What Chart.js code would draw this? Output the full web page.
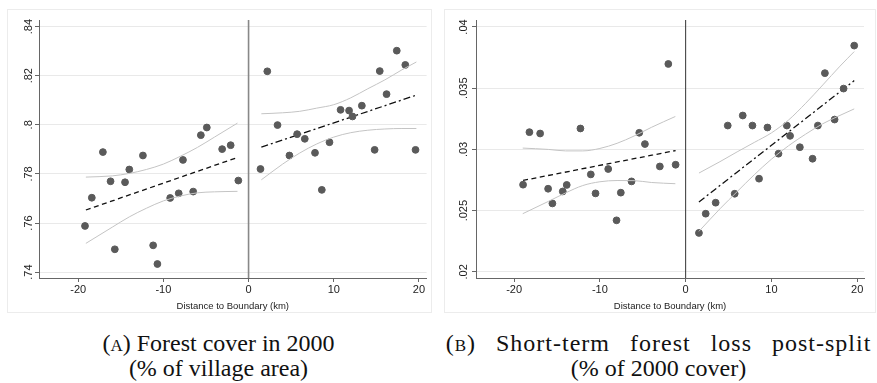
<!DOCTYPE html>
<html lang="en">
<head>
<meta charset="UTF-8">
<script src="https://cdn.jsdelivr.net/npm/chart.js"></script>
<style>
  body { margin: 0; width: 877px; height: 383px; background: #fff; position: relative; overflow: hidden; }
  .panel { position: absolute; top: 9px; height: 304px; border: 1px solid #ececec; box-sizing: border-box; }
  .cap { position: absolute; top: 331px; font-family: 'Liberation Serif', serif; font-size: 24px; line-height: 25px; color: #111; text-align: center; white-space: nowrap; }
  .sc { font-variant: small-caps; }
</style>
</head>
<body>

<div class="panel" style="left:7px; width:425px;"><canvas id="chartA"></canvas></div>
<div class="panel" style="left:444px; width:432px;"><canvas id="chartB"></canvas></div>

<div class="cap" style="left:0; width:437px;">(<span class="sc">a</span>) Forest cover in 2000<br>(% of village area)</div>
<div class="cap" style="left:440px; width:437px;"><span style="word-spacing:13px; letter-spacing:1px;">(<span class="sc">b</span>) Short-term forest loss post-split</span><br>(% of 2000 cover)</div>

<script>
  // x ticks (shared)
  const xTicks = [-20, -10, 0, 10, 20];

  // Panel A: forest cover 2000, binned means
  const distA = [-19.2, -18.4, -17.1, -16.2, -15.7, -14.5, -14.0, -12.4, -11.2, -10.7, -9.2, -8.2, -7.7, -6.5, -5.6, -4.9, -3.1, -2.1, -1.2,
                 1.4, 2.2, 3.4, 4.8, 5.7, 6.6, 7.8, 8.6, 9.5, 10.8, 11.8, 12.2, 13.3, 14.8, 15.4, 16.2, 17.4, 18.4, 19.6];
  const coverA = [.7588, .7703, .7889, .7770, .7493, .7766, .7818, .7875, .7509, .7433, .7702, .7721, .7857, .7728, .7958, .7989, .7901, .7917, .7773,
                  .7820, .8218, .7999, .7875, .7962, .7943, .7886, .7735, .7929, .8061, .8058, .8034, .8078, .7898, .8219, .8125, .8302, .8244, .7898];
  const fitAX_L = [-19.1, -1.3];
  const fitAY_L = [.7653, .7867];
  const fitAX_R = [1.5, 19.7];
  const fitAY_R = [.7909, .8121];
  const ciAX_L = [-19.1, -16, -14, -12, -10, -8, -6, -4, -1.3];
  const ciAHi_L = [.7787, .7792, .7802, .7818, .7840, .7872, .7908, .7950, .8007];
  const ciALo_L = [.7517, .7583, .7625, .7660, .7690, .7710, .7723, .7727, .7729];
  const ciAX_R = [1.5, 4, 6, 8, 10, 12, 14, 16, 18, 19.7];
  const ciAHi_R = [.8045, .8049, .8055, .8068, .8082, .8110, .8147, .8183, .8224, .8256];
  const ciALo_R = [.7776, .7840, .7885, .7922, .7950, .7968, .7978, .7983, .7985, .7985];
  const yTicksA = [.74, .76, .78, .80, .82, .84];
  const yLabelsA = ['.74', '.76', '.78', '.8', '.82', '.84'];

  // Panel B: short-term forest loss post-split
  const distB = [-18.96, -18.22, -16.97, -16.04, -15.54, -14.33, -13.87, -12.27, -11.06, -10.51, -9.03, -8.06, -7.56, -6.31, -5.41, -4.75, -3.01, -2.02, -1.17,
                 1.55, 2.34, 3.5, 4.91, 5.72, 6.66, 7.79, 8.56, 9.54, 10.83, 11.8, 12.18, 13.32, 14.8, 15.42, 16.24, 17.37, 18.42, 19.66];
  const lossB = [.02712, .03141, .0313, .02679, .02559, .02657, .0271, .03171, .02796, .02641, .0284, .02421, .02647, .02739, .03136, .03044, .02861, .03698, .02875,
                 .02318, .02475, .02565, .03195, .02638, .03277, .03195, .02761, .03179, .02965, .03195, .03111, .03018, .02924, .03195, .03623, .03244, .03497, .03848];
  const fitBX_L = [-18.96, -1.17];
  const fitBY_L = [.02747, .02991];
  const fitBX_R = [1.55, 19.66];
  const fitBY_R = [.02571, .03562];
  const ciBX_L = [-19, -16, -14, -12, -10, -8, -6, -4, -1.2];
  const ciBHi_L = [.03011, .0300, .02988, .02988, .03008, .03050, .03110, .03180, .03269];
  const ciBLo_L = [.02475, .02576, .02645, .02705, .02736, .02746, .02745, .02730, .02720];
  const ciBX_R = [1.55, 4, 6, 8, 10, 12, 14, 16, 18, 19.66];
  const ciBHi_R = [.02807, .02900, .02980, .03057, .03135, .03240, .03377, .03527, .03680, .03799];
  const ciBLo_R = [.02331, .02515, .02655, .02793, .02920, .03030, .03125, .03210, .03278, .03331];
  const yTicksB = [.02, .025, .03, .035, .04];
  const yLabelsB = ['.02', '.025', '.03', '.035', '.04'];

  const pts = (xs, ys) => xs.map((x, i) => ({ x: x, y: ys[i] }));

  function lineSet(xs, ys, color, dash, width) {
    return { type: 'line', data: pts(xs, ys), borderColor: color, borderWidth: width, borderDash: dash,
             pointRadius: 0, fill: false, tension: 0.4, cubicInterpolationMode: 'monotone' };
  }

  // zero line + rotated y tick labels
  const extras = {
    id: 'extras',
    beforeDatasetsDraw(chart, args, opts) {
      const ctx = chart.ctx, x = chart.scales.x.getPixelForValue(0), a = chart.chartArea;
      ctx.save();
      ctx.strokeStyle = opts.zeroColor;
      ctx.lineWidth = opts.zeroWidth;
      ctx.beginPath(); ctx.moveTo(x, a.top); ctx.lineTo(x, a.bottom); ctx.stroke();
      ctx.restore();
    },
    afterDraw(chart, args, opts) {
      const ctx = chart.ctx, ys = chart.scales.y;
      ctx.save();
      ctx.font = '11px "Liberation Sans", Arial, sans-serif';
      ctx.fillStyle = '#222';
      ctx.textAlign = 'center';
      ctx.textBaseline = 'middle';
      opts.ticks.forEach((v, i) => {
        ctx.save();
        ctx.translate(ys.right - opts.labelGap, ys.getPixelForValue(v));
        ctx.rotate(-Math.PI / 2);
        ctx.fillText(opts.labels[i], 0, 0);
        ctx.restore();
      });
      ctx.restore();
    }
  };

  function makeChart(id, d) {
    return new Chart(document.getElementById(id), {
      type: 'scatter',
      data: {
        datasets: [
          lineSet(d.ciX_L, d.ciHi_L, '#c4c4c4', [], 1),
          lineSet(d.ciX_L, d.ciLo_L, '#c4c4c4', [], 1),
          lineSet(d.ciX_R, d.ciHi_R, '#c4c4c4', [], 1),
          lineSet(d.ciX_R, d.ciLo_R, '#c4c4c4', [], 1),
          { type: 'scatter', data: pts(d.xs, d.ys), backgroundColor: '#5a5a5a', borderColor: '#5a5a5a',
            pointRadius: 3.4, pointHoverRadius: 3.4 },
          lineSet(d.fitX_L, d.fitY_L, '#111', [5, 3.5], 1.3),
          lineSet(d.fitX_R, d.fitY_R, '#111', [7, 3, 2, 3], 1.3)
        ]
      },
      options: {
        responsive: true,
        maintainAspectRatio: false,
        animation: false,
        layout: { padding: { top: 10, right: d.padRight, left: 0, bottom: 0 } },
        plugins: {
          legend: { display: false },
          tooltip: { enabled: false },
          extras: { ticks: d.yTicks, labels: d.yLabels, zeroColor: d.zeroColor, zeroWidth: d.zeroWidth, labelGap: d.labelGap }
        },
        scales: {
          x: {
            type: 'linear', min: d.xMin, max: d.xMax,
            afterBuildTicks: s => { s.ticks = xTicks.map(v => ({ value: v })); },
            afterFit: s => { s.height = 34; },
            border: { color: '#666', width: 1 },
            grid: { drawOnChartArea: false, drawTicks: true, tickLength: 4, tickColor: '#666' },
            ticks: { color: '#222', font: { family: 'Liberation Sans', size: 11 }, padding: 1, maxRotation: 0 },
            title: { display: true, text: 'Distance to Boundary (km)', color: '#222',
                     font: { family: 'Liberation Sans', size: 9.5 }, padding: { top: 0, bottom: 0 } }
          },
          y: {
            type: 'linear', min: d.yMin, max: d.yMax,
            afterBuildTicks: s => { s.ticks = d.yTicks.map(v => ({ value: v })); },
            afterFit: s => { s.width = 31; },
            border: { color: '#666', width: 1 },
            grid: { color: '#e9e9e9', drawTicks: true, tickLength: 4, tickColor: '#666' },
            ticks: { display: false }
          }
        }
      },
      plugins: [extras]
    });
  }

  makeChart('chartA', {
    xs: distA, ys: coverA,
    fitX_L: fitAX_L, fitY_L: fitAY_L, fitX_R: fitAX_R, fitY_R: fitAY_R,
    ciX_L: ciAX_L, ciHi_L: ciAHi_L, ciLo_L: ciALo_L, ciX_R: ciAX_R, ciHi_R: ciAHi_R, ciLo_R: ciALo_R,
    xMin: -24.6, xMax: 20.9, yMin: .7376, yMax: .8427, yTicks: yTicksA, yLabels: yLabelsA,
    zeroColor: '#888', zeroWidth: 1.6, padRight: 4, labelGap: 10
  });

  makeChart('chartB', {
    xs: distB, ys: lossB,
    fitX_L: fitBX_L, fitY_L: fitBY_L, fitX_R: fitBX_R, fitY_R: fitBY_R,
    ciX_L: ciBX_L, ciHi_L: ciBHi_L, ciLo_L: ciBLo_L, ciX_R: ciBX_R, ciHi_R: ciBHi_R, ciLo_R: ciBLo_R,
    xMin: -24.45, xMax: 20.8, yMin: .0195, yMax: .04057, yTicks: yTicksB, yLabels: yLabelsB,
    zeroColor: '#333', zeroWidth: 1, padRight: 11, labelGap: 12
  });
</script>
</body>
</html>
